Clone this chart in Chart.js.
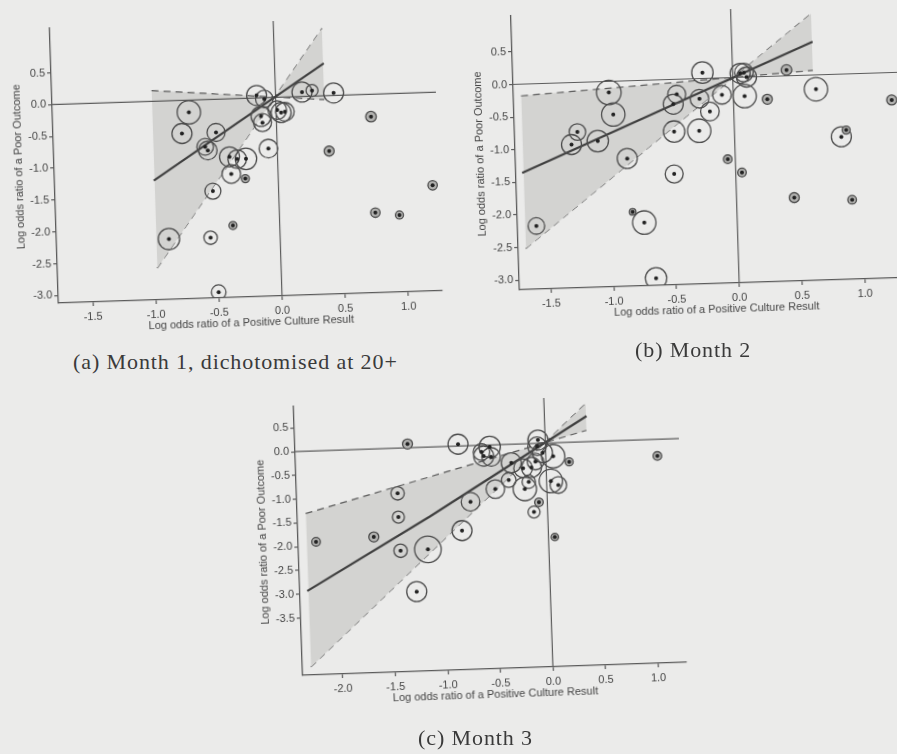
<!DOCTYPE html>
<html>
<head>
<meta charset="utf-8">
<script src="https://cdn.jsdelivr.net/npm/chart.js@4.4.1/dist/chart.umd.min.js"></script>
<style>
  html, body { margin: 0; padding: 0; overflow: hidden; }
  body { width: 897px; height: 754px; position: relative; background: #ebebea; }
  canvas { position: absolute; }
  .cap { position: absolute; font-family: "Liberation Serif", serif; font-size: 22px; letter-spacing: 0.9px; color: #3a3a3a; white-space: nowrap; line-height: 1; }
</style>
</head>
<body>
<canvas id="chartA" width="450" height="340" style="left:0;top:0;transform-origin:276px 97px;transform:rotate(-1.85deg)"></canvas>
<canvas id="chartB" width="460" height="347" style="left:460px;top:-5px;transform-origin:273px 83px;transform:rotate(-1.8deg)"></canvas>
<canvas id="chartC" width="460" height="333" style="left:240px;top:383px;transform-origin:305px 61px;transform:rotate(-1.95deg)"></canvas>
<div class="cap" style="left:73px;top:351px">(a) Month 1, dichotomised at 20+</div>
<div class="cap" style="left:635px;top:339px">(b) Month 2</div>
<div class="cap" style="left:418px;top:727px">(c) Month 3</div>
<script>
const xTitle = "Log odds ratio of a Positive Culture Result";
const yTitle = "Log odds ratio of a Poor Outcome";

// (a) Month 1, dichotomised at 20+
const aX = [-0.69, -0.75, -0.48, -0.57, -0.55, -0.38, -0.32, -0.25, -0.37, -0.26, -0.52, -0.37, -0.88, -0.55, -0.50, -0.07, -0.15, -0.09, -0.12, -0.11, 0.01, 0.04, 0.07, 0.21, 0.29, 0.46, 0.75, 0.41, 1.22, 0.76, 0.95];
const aY = [-0.19, -0.52, -0.52, -0.74, -0.80, -0.91, -0.95, -0.95, -1.18, -1.26, -1.44, -1.99, -2.17, -2.17, -3.03, -0.80, 0.04, -0.02, -0.29, -0.39, -0.20, -0.24, -0.23, 0.07, 0.09, 0.04, -0.35, -0.87, -1.46, -1.86, -1.91];
const aW = [11.7, 10, 9, 8.3, 9.3, 10, 9.3, 10.7, 9.3, 4, 8, 4, 10.7, 6.7, 7.3, 9.3, 10, 8.7, 10, 9, 9.3, 10, 9.3, 10, 6, 10, 5.3, 5, 4.7, 4.7, 4];
const aFitX = [-0.985, 0.39];
const aFitY = [-1.245, 0.51];
const aBandX = [-0.98, 0.385];
const aBandLo = [0.17, -0.06];
const aBandHi = [-2.62, 1.06];
const aXTicks = [-1.5, -1.0, -0.5, 0.0, 0.5, 1.0];
const aYTicks = [0.5, 0.0, -0.5, -1.0, -1.5, -2.0, -2.5, -3.0];

// (b) Month 2
const bX = [-1.60, -1.30, -1.25, -1.09, -0.99, -0.96, -0.86, -0.83, -0.74, -0.66, -0.48, -0.45, -0.48, -0.49, -0.27, -0.28, -0.24, -0.19, -0.09, -0.06, 0.05, 0.06, 0.09, 0.11, 0.09, 0.27, 0.43, 0.66, 0.46, 0.85, 0.89, 0.92, 1.26];
const bY = [-2.18, -0.95, -0.76, -0.91, -0.17, -0.51, -1.19, -2.01, -2.18, -3.04, -0.38, -0.23, -0.80, -1.45, -0.31, -0.80, 0.09, -0.51, -0.26, -1.25, -1.46, 0.06, 0.07, 0.00, -0.29, -0.35, 0.09, -0.22, -1.87, -0.96, -0.86, -1.93, -0.42];
const bW = [8.3, 10, 8.3, 10.7, 12.3, 11.7, 10, 3.3, 11.7, 10.7, 10, 9, 10.7, 9, 9.3, 11.7, 10.7, 9.3, 9.3, 4.3, 4.3, 10, 9.3, 10, 11.7, 5, 5.3, 11.7, 5, 10, 4, 4.3, 5];
const bFitX = [-1.70, 0.645];
const bFitY = [-1.36, 0.51];
const bBandX = [-1.69, 0.64];
const bBandLo = [-0.18, 0.07];
const bBandHi = [-2.52, 0.94];
const bXTicks = [-1.5, -1.0, -0.5, 0.0, 0.5, 1.0];
const bYTicks = [0.5, 0.0, -0.5, -1.0, -1.5, -2.0, -2.5, -3.0];

// (c) Month 3
const cX = [-2.21, -1.31, -1.42, -1.42, -1.66, -1.41, -1.15, -1.27, -0.83, -0.73, -0.82, -0.49, -0.36, -0.53, -0.59, -0.52, -0.61, -0.33, -0.22, -0.21, -0.17, -0.14, -0.10, -0.07, -0.08, -0.03, 0.07, 0.04, 0.11, -0.08, -0.13, 0.22, 0.06, 1.06];
const cY = [-1.91, 0.08, -0.95, -1.45, -1.85, -2.16, -2.15, -3.03, 0.04, -1.18, -1.78, -0.93, -0.75, -0.04, -0.23, -0.25, -0.14, -0.39, -0.51, -0.95, -0.80, -0.50, -0.38, 0.07, -0.06, -0.20, -0.28, -0.80, -0.89, -1.24, -1.44, -0.41, -1.98, -0.35];
const cW = [4.3, 5, 6.7, 6, 5, 6.7, 13.3, 10, 10, 9.3, 10, 9.3, 7.3, 10.7, 10, 9.3, 8.3, 10, 9.3, 11.7, 6.7, 10, 8.3, 10, 9.3, 10, 11.7, 11.7, 8.3, 4.3, 6, 4, 3.7, 4.3];
const cFitX = [-2.31, -1.12, 0.40];
const cFitY = [-2.94, -1.46, 0.54];
const cBandX = [-2.30, 0.395];
const cBandLo = [-1.31, 0.24];
const cBandHi = [-4.54, 0.80];
const cXTicks = [-2.0, -1.5, -1.0, -0.5, 0.0, 0.5, 1.0];
const cYTicks = [0.5, 0.0, -0.5, -1.0, -1.5, -2.0, -2.5, -3.0, -3.5];

const ink = "#454545";
const tickFont = { family: "Liberation Sans, Arial, sans-serif", size: 11 };

function pts(xs, ys) {
  return xs.map((x, i) => ({ x: x, y: ys[i] }));
}

function makeChart(id, d) {
  const lineDs = (data, extra) => Object.assign({
    type: "line", data: data, showLine: true, pointRadius: 0,
    borderColor: "#5a5a5a", borderWidth: 1.2, fill: false, tension: 0
  }, extra);

  new Chart(document.getElementById(id), {
    type: "scatter",
    data: {
      datasets: [
        // higher order is drawn first (further back)
        lineDs(pts(d.bandX, d.bandLo), { borderDash: [7, 5], fill: "+1", backgroundColor: "#d3d3d1", order: 6 }),
        lineDs(pts(d.bandX, d.bandHi), { borderDash: [7, 5], order: 6 }),
        lineDs([{ x: d.xMin, y: 0 }, { x: d.xMax, y: 0 }], { borderColor: "#5c5c5c", order: 5 }),
        lineDs([{ x: 0, y: d.yMin }, { x: 0, y: d.yMax }], { borderColor: "#5c5c5c", order: 5 }),
        lineDs(pts(d.fitX, d.fitY), { borderColor: "#3f3f3f", borderWidth: 2.2, order: 3 }),
        {
          type: "bubble",
          order: 2,
          data: d.xs.map((x, i) => ({ x: x, y: d.ys[i], r: d.ws[i] })),
          borderColor: "#4c4c4c",
          borderWidth: 1.3,
          backgroundColor: ctx => (ctx.raw && ctx.raw.r < 5.6) ? "#b2b2b0" : "rgba(0,0,0,0)"
        },
        {
          type: "scatter",
          order: 1,
          data: pts(d.xs, d.ys),
          pointRadius: 2,
          pointBorderWidth: 0,
          backgroundColor: "#222"
        }
      ]
    },
    options: {
      responsive: false,
      animation: false,
      devicePixelRatio: 1,
      layout: { padding: d.pad },
      plugins: { legend: { display: false }, tooltip: { enabled: false } },
      scales: {
        x: {
          type: "linear", min: d.xMin, max: d.xMax,
          afterBuildTicks: s => { s.ticks = d.xTicks.map(v => ({ value: v })); },
          afterFit: s => { s.height = 33; s.paddingLeft = 0; s.paddingRight = 0; },
          ticks: { callback: v => v.toFixed(1), font: tickFont, color: ink, padding: 4, maxRotation: 0, autoSkip: false },
          grid: { drawOnChartArea: false, tickLength: 4, color: "#5a5a5a", lineWidth: 1.2 },
          border: { color: "#5a5a5a", width: 1.3 },
          title: { display: true, text: xTitle, font: tickFont, color: ink, padding: { top: 0, bottom: 0 } }
        },
        y: {
          type: "linear", min: d.yMin, max: d.yMax,
          afterBuildTicks: s => { s.ticks = d.yTicks.map(v => ({ value: v })); },
          afterFit: s => { s.width = 42; s.paddingTop = 0; s.paddingBottom = 0; },
          ticks: { callback: v => v.toFixed(1), font: tickFont, color: ink, padding: 2, autoSkip: false },
          grid: { drawOnChartArea: false, tickLength: 4, color: "#5a5a5a", lineWidth: 1.2 },
          border: { color: "#5a5a5a", width: 1.3 },
          title: { display: true, text: yTitle, font: tickFont, color: ink, padding: { top: 0, bottom: 0 } }
        }
      }
    }
  });
}

makeChart("chartA", {
  xs: aX, ys: aY, ws: aW, fitX: aFitX, fitY: aFitY,
  bandX: aBandX, bandLo: aBandLo, bandHi: aBandHi,
  xTicks: aXTicks, yTicks: aYTicks,
  xMin: -1.77, xMax: 1.27, yMin: -3.12, yMax: 1.2,
  pad: { left: 10, top: 21, right: 14, bottom: 11 }
});
makeChart("chartB", {
  xs: bX, ys: bY, ws: bW, fitX: bFitX, fitY: bFitY,
  bandX: bBandX, bandLo: bBandLo, bandHi: bBandHi,
  xTicks: bXTicks, yTicks: bYTicks,
  xMin: -1.75, xMax: 1.38, yMin: -3.15, yMax: 1.05,
  pad: { left: 11, top: 14, right: 14, bottom: 26 }
});
makeChart("chartC", {
  xs: cX, ys: cY, ws: cW, fitX: cFitX, fitY: cFitY,
  bandX: cBandX, bandLo: cBandLo, bandHi: cBandHi,
  xTicks: cXTicks, yTicks: cYTicks,
  xMin: -2.38, xMax: 1.27, yMin: -4.71, yMax: 0.95,
  pad: { left: 13, top: 15, right: 21, bottom: 16 }
});
</script>
</body>
</html>
